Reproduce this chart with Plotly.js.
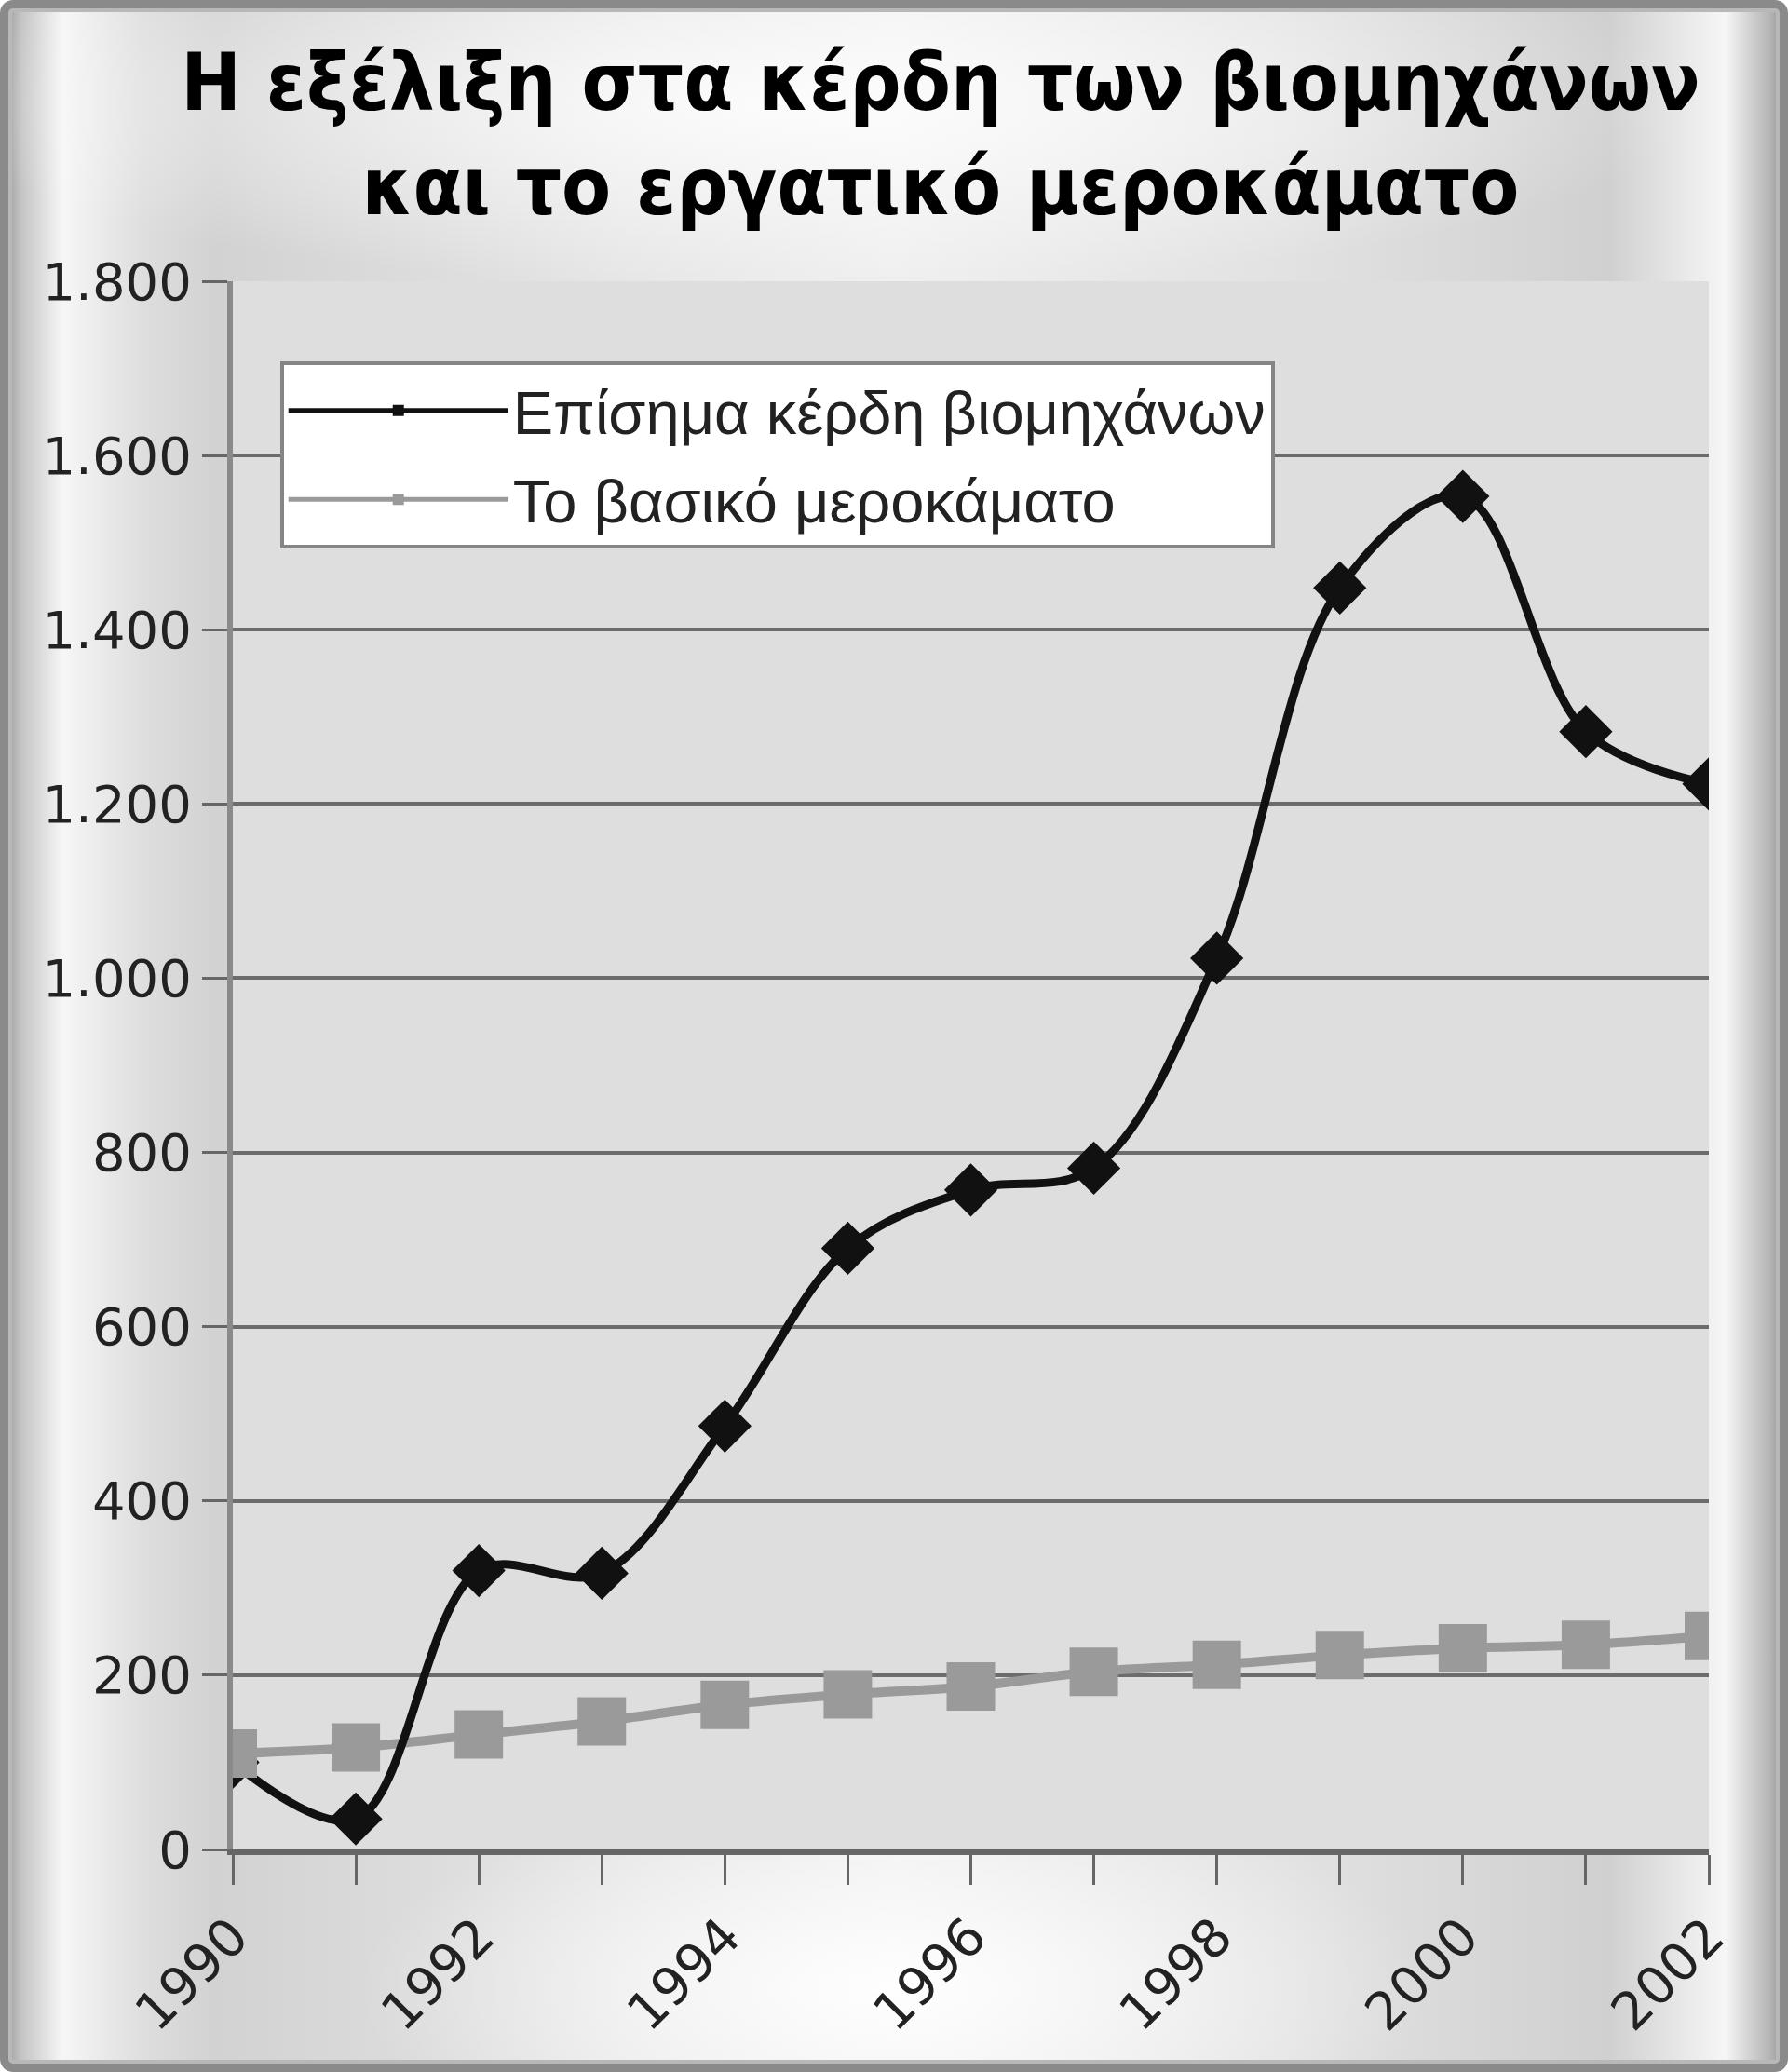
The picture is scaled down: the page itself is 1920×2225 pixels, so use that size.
<!DOCTYPE html>
<html>
<head>
<meta charset="utf-8">
<script src="https://cdn.plot.ly/plotly-3.0.1.min.js"></script>
<style>
  html, body { margin:0; padding:0; }
  #bg {
    position:absolute; left:0; top:0; width:1920px; height:2225px;
    border-radius:14px;
    box-shadow: inset 0 0 0 9px #8a8a8a, inset 0 0 0 13px #b8b8b8;
    background:
      radial-gradient(ellipse 30% 10% at 50% 96%, rgba(255,255,255,0.95), rgba(255,255,255,0) 100%),
      radial-gradient(ellipse 50% 9% at 45% 5%, rgba(255,255,255,0.85), rgba(255,255,255,0) 100%),
      linear-gradient(to right, #8e8e8e 0%, #c4c4c4 1.2%, #f6f6f6 3.5%, #dedede 8%, #d2d2d2 12%, #e6e6e6 35%, #efefef 50%, #e2e2e2 72%, #d0d0d0 90%, #f6f6f6 96.5%, #b4b4b4 99%, #8e8e8e 100%);
  }
  #chart { position:absolute; left:0; top:0; width:1920px; height:2225px; }
</style>
</head>
<body>
<div id="bg"></div>
<div id="chart"></div>
<script>
// ---- data ----
var years   = [1990, 1991, 1992, 1993, 1994, 1995, 1996, 1997, 1998, 1999, 2000, 2001, 2002];
var profits = [100, 35, 320, 317, 486, 690, 757, 782, 1023, 1448, 1553, 1283, 1223];
var wages   = [110, 117, 132, 147, 166, 178, 187, 204, 212, 223, 231, 235, 245];
var tickYears = years;
var tickLabels = ['1990', '', '1992', '', '1994', '', '1996', '', '1998', '', '2000', '', '2002'];
var nameProfits = 'Επίσημα κέρδη βιομηχάνων';
var nameWages = 'Το βασικό μεροκάματο';
var titleText = 'Η εξέλιξη στα κέρδη των βιομηχάνων<br>και το εργατικό μεροκάματο';

var BLACK = '#111111';
var GRAY = '#9a9a9a';

var traces = [
  { x: years, y: wages, mode: 'lines', line: {color: GRAY, width: 10, shape: 'spline', smoothing: 1}, showlegend: false, hoverinfo: 'skip' },
  { x: years, y: profits, mode: 'lines', line: {color: BLACK, width: 9, shape: 'spline', smoothing: 1}, showlegend: false, hoverinfo: 'skip' },
  { x: years, y: profits, mode: 'markers', marker: {symbol: 'diamond', size: 44, color: BLACK}, showlegend: false },
  { x: years, y: wages, mode: 'markers', marker: {symbol: 'square', size: 52, color: GRAY}, showlegend: false },
  { x: [null], y: [null], name: nameProfits, mode: 'lines+markers', legendgroup: 'a',
    line: {color: BLACK, width: 9}, marker: {symbol: 'square', size: 44, color: BLACK} },
  { x: [null], y: [null], name: nameWages, mode: 'lines+markers', legendgroup: 'b',
    line: {color: GRAY, width: 10}, marker: {symbol: 'square', size: 52, color: GRAY} }
];

var layout = {
  width: 1920, height: 2225,
  paper_bgcolor: 'rgba(0,0,0,0)',
  plot_bgcolor: '#dedede',
  separators: ',.',
  margin: {l: 250, r: 85, t: 302, b: 239, pad: 0},
  title: {
    text: titleText,
    font: {family: 'DejaVu Sans Condensed, Liberation Sans Narrow, DejaVu Sans', size: 86, color: '#000', weight: 'bold'},
    x: 0.526, xanchor: 'center', xref: 'container',
    y: 0.947, yanchor: 'top', yref: 'container'
  },
  showlegend: true,
  legend: {
    x: 0.032, xanchor: 'left', y: 0.949, yanchor: 'top',
    bgcolor: '#ffffff', bordercolor: '#858585', borderwidth: 4,
    font: {family: 'Liberation Sans, Arial, sans-serif', size: 65, color: '#222'},
    itemwidth: 236, traceorder: 'grouped', tracegroupgap: 8,
    itemsizing: 'constant'
  },
  xaxis: {
    range: [1990, 2002],
    tickmode: 'array', tickvals: tickYears, ticktext: tickLabels,
    tickangle: -45,
    ticks: 'outside', ticklen: 32, tickwidth: 3, tickcolor: '#666',
    showline: true, linecolor: '#666', linewidth: 6,
    showgrid: false, zeroline: false,
    tickfont: {family: 'DejaVu Sans, sans-serif', size: 56, color: '#222'},
    fixedrange: true
  },
  yaxis: {
    range: [0, 1800], dtick: 200, tick0: 0, tickformat: ',d',
    ticks: 'outside', ticklen: 27, tickwidth: 3, tickcolor: '#666',
    showline: true, linecolor: '#8a8a8a', linewidth: 6,
    showgrid: true, gridcolor: '#6c6c6c', gridwidth: 4,
    zeroline: false,
    tickfont: {family: 'DejaVu Sans, sans-serif', size: 56, color: '#222'},
    fixedrange: true
  }
};

Plotly.newPlot('chart', traces, layout, {displayModeBar: false, staticPlot: true});
</script>
</body>
</html>
